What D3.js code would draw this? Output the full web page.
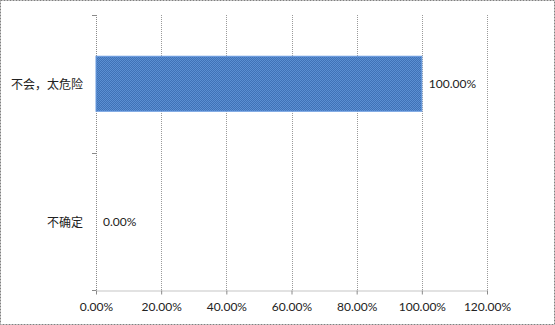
<!DOCTYPE html>
<html><head><meta charset="utf-8">
<script src="https://cdn.jsdelivr.net/npm/d3@7"></script>
<style>body{margin:0;background:#fff}svg{display:block}</style>
</head><body>
<script>
const categories = ["不会，太危险", "不确定"];
const values = [100, 0];
const tickValues = [0, 20, 40, 60, 80, 100, 120];

const W = 555, H = 325;
const margin = {left: 96, right: 68, top: 15, bottom: 35};
const svg = d3.select("body").append("svg").attr("width", W).attr("height", H);

const defs = svg.append("defs");
const pat = defs.append("pattern").attr("id", "dots").attr("patternUnits", "userSpaceOnUse")
  .attr("width", 2).attr("height", 2);
pat.append("rect").attr("width", 2).attr("height", 2).attr("fill", "#3f72b6");
pat.append("rect").attr("width", 1).attr("height", 1).attr("fill", "#5b8fd2");
pat.append("rect").attr("x", 1).attr("y", 1).attr("width", 1).attr("height", 1).attr("fill", "#5b8fd2");

svg.append("rect").attr("x", 0.5).attr("y", 0.5).attr("width", W - 1).attr("height", H - 1)
  .attr("fill", "#fff").attr("stroke", "#808080").attr("stroke-dasharray", "2,1");

const x = d3.scaleLinear().domain([0, 120]).range([margin.left, W - margin.right]);
const y = d3.scaleBand().domain(categories).range([margin.top, H - margin.bottom])
  .paddingInner(0.6).paddingOuter(0.3);
const yEdges = [margin.top, (margin.top + H - margin.bottom) / 2, H - margin.bottom];

// gridlines
svg.append("g").selectAll("line").data(tickValues.slice(1)).join("line")
  .attr("x1", d => Math.round(x(d)) + 0.5).attr("x2", d => Math.round(x(d)) + 0.5)
  .attr("y1", margin.top).attr("y2", H - margin.bottom)
  .attr("stroke", "#9a9a9a").attr("stroke-dasharray", "1,1");

// x axis
const xAxis = d3.axisBottom(x).tickValues(tickValues).tickSize(4).tickSizeOuter(0)
  .tickFormat(d => d.toFixed(2) + "%");
const gx = svg.append("g").attr("transform", `translate(0,${H - margin.bottom + 0.5})`).call(xAxis);
gx.select(".domain").attr("stroke", "#8a8a8a").attr("stroke-dasharray", "1,1");
gx.selectAll(".tick line").attr("stroke", "#8a8a8a");
gx.selectAll(".tick text").attr("font-family", "Lato, 'Open Sans', sans-serif").attr("font-size", 12)
  .attr("fill", "#222").attr("dy", "1.15em");

// y axis
const gy = svg.append("g");
gy.append("line").attr("x1", margin.left + 0.5).attr("x2", margin.left + 0.5)
  .attr("y1", margin.top).attr("y2", H - margin.bottom)
  .attr("stroke", "#8a8a8a").attr("stroke-dasharray", "1,1");
gy.selectAll("line.t").data(yEdges).join("line").attr("class", "t")
  .attr("x1", margin.left - 4).attr("x2", margin.left)
  .attr("y1", d => Math.round(d) + 0.5).attr("y2", d => Math.round(d) + 0.5)
  .attr("stroke", "#8a8a8a");
gy.selectAll("text").data(categories).join("text")
  .attr("x", margin.left - 13).attr("y", d => y(d) + y.bandwidth() / 2)
  .attr("text-anchor", "end").attr("dominant-baseline", "central")
  .attr("font-family", "'Noto Sans CJK SC', sans-serif").attr("font-size", 12).attr("fill", "#222")
  .text(d => d);

// bars
svg.append("g").selectAll("rect").data(categories).join("rect")
  .attr("x", x(0)).attr("y", d => y(d))
  .attr("width", (d, i) => x(values[i]) - x(0)).attr("height", y.bandwidth())
  .attr("fill", "url(#dots)").attr("stroke", (d, i) => values[i] > 0 ? "#6a9be0" : "none").attr("stroke-width", 1);

// labels
svg.append("g").selectAll("text").data(categories).join("text")
  .attr("x", (d, i) => x(values[i]) + 7).attr("y", d => y(d) + y.bandwidth() / 2)
  .attr("dominant-baseline", "central")
  .attr("font-family", "Lato, 'Open Sans', sans-serif").attr("font-size", 12).attr("fill", "#222")
  .text((d, i) => values[i].toFixed(2) + "%");
</script>
</body></html>
